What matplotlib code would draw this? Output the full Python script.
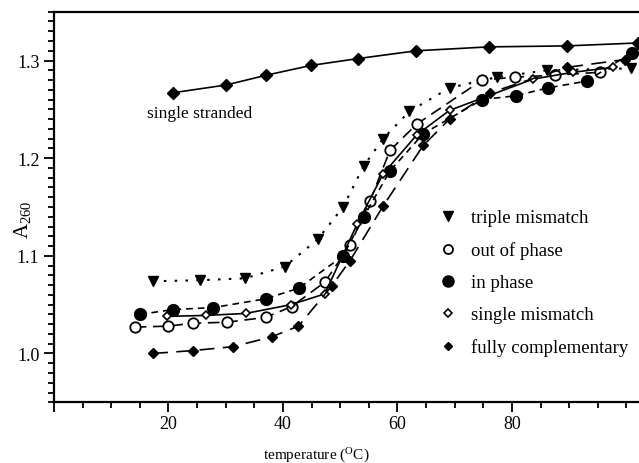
import matplotlib
matplotlib.use("Agg")
import matplotlib.pyplot as plt
from matplotlib.lines import Line2D
from matplotlib.ticker import FixedLocator, MultipleLocator

plt.rcParams['font.family'] = ['Liberation Serif', 'DejaVu Serif']
plt.rcParams['mathtext.fontset'] = 'custom'
plt.rcParams['mathtext.rm'] = 'Liberation Serif'
plt.rcParams['mathtext.it'] = 'Liberation Serif:italic'

# melting curves, absorbance at 260 nm vs temperature
ss_t = [20.8, 30.1, 37.1, 44.9, 53.1, 63.3, 76.0, 89.6, 102.0]
ss_a = [1.267, 1.275, 1.285, 1.295, 1.302, 1.310, 1.314, 1.315, 1.318]

triple_t = [17.3, 25.5, 33.4, 40.3, 46.1, 50.5, 54.1, 57.5, 62.1, 69.1, 77.4, 86.2, 100.8]
triple_a = [1.074, 1.075, 1.077, 1.089, 1.117, 1.150, 1.192, 1.220, 1.248, 1.272, 1.283, 1.290, 1.292]

outph_t = [14.1, 19.9, 24.3, 30.2, 37.0, 41.5, 47.3, 51.7, 55.2, 58.7, 63.4, 74.8, 80.6, 87.5, 95.3]
outph_a = [1.027, 1.028, 1.031, 1.032, 1.037, 1.048, 1.073, 1.111, 1.156, 1.208, 1.235, 1.280, 1.283, 1.285, 1.288]

inph_t = [15.0, 20.8, 27.8, 37.0, 42.8, 50.5, 54.1, 58.7, 64.5, 74.8, 80.7, 86.3, 93.1, 100.9]
inph_a = [1.040, 1.045, 1.047, 1.056, 1.067, 1.100, 1.140, 1.187, 1.225, 1.260, 1.264, 1.272, 1.279, 1.308]

single_t = [19.7, 26.6, 33.5, 41.4, 47.3, 53.0, 57.5, 63.4, 69.1, 83.7, 90.7, 97.7]
single_a = [1.038, 1.039, 1.041, 1.050, 1.061, 1.133, 1.184, 1.224, 1.249, 1.281, 1.288, 1.293]

full_t = [17.3, 24.3, 31.3, 38.0, 42.7, 48.5, 51.7, 57.5, 64.5, 69.1, 76.2, 89.6, 99.7]
full_a = [1.000, 1.003, 1.007, 1.017, 1.028, 1.069, 1.095, 1.151, 1.213, 1.240, 1.267, 1.293, 1.301]

legend_labels = ["triple mismatch", "out of phase", "in phase",
                 "single mismatch", "fully complementary"]

fig = plt.figure(figsize=(6.39, 4.64), dpi=100)
ax = fig.add_axes([0.0845, 0.1308, 0.9155, 0.8418])

lw = 1.2
ax.plot(ss_t, ss_a, '-', color='black', lw=lw, marker='D', ms=6, mfc='black', mec='black')
ax.plot(triple_t, triple_a, color='black', lw=1.5, linestyle=(0, (1.2, 4)),
        marker='v', ms=7.5, mfc='black', mec='black')
ax.plot(outph_t, outph_a, color='black', lw=lw, linestyle=(0, (7, 4)),
        marker='o', ms=7.5, mfc='white', mec='black', mew=1.3)
ax.plot(inph_t, inph_a, color='black', lw=lw, linestyle=(0, (4, 3)),
        marker='o', ms=8.5, mfc='black', mec='black')
ax.plot(single_t, single_a, '-', color='black', lw=lw,
        marker='D', ms=4.5, mfc='white', mec='black', mew=1.2)
ax.plot(full_t, full_a, color='black', lw=lw, linestyle=(0, (9, 5)),
        marker='D', ms=5.5, mfc='black', mec='black')

ax.text(16.2, 1.246, "single stranded", fontsize=12.5, ha='left', va='center')

handles = [
    Line2D([], [], ls='none', marker='v', ms=6.5, mfc='black', mec='black'),
    Line2D([], [], ls='none', marker='o', ms=6.5, mfc='white', mec='black', mew=1.3),
    Line2D([], [], ls='none', marker='o', ms=8, mfc='black', mec='black'),
    Line2D([], [], ls='none', marker='D', ms=4, mfc='white', mec='black', mew=1.2),
    Line2D([], [], ls='none', marker='D', ms=4.5, mfc='black', mec='black'),
]
ax.legend(handles, legend_labels, loc='center left', bbox_to_anchor=(0.657, 0.306),
          frameon=False, fontsize=13.5, handlelength=1.0, handletextpad=0.75,
          labelspacing=0.8, borderpad=0, borderaxespad=0)

ax.set_xlim(0, 102.2)
ax.set_ylim(0.95, 1.35)
ax.xaxis.set_major_locator(FixedLocator([0, 20, 40, 60, 80]))
ax.xaxis.set_minor_locator(MultipleLocator(5))
ax.set_xticklabels(["", "20", "40", "60", "80"])
ax.yaxis.set_major_locator(FixedLocator([1.0, 1.1, 1.2, 1.3]))
ax.yaxis.set_minor_locator(MultipleLocator(0.01))
ax.set_yticklabels(["1.0", "1.1", "1.2", "1.3"])

ax.tick_params(axis='both', which='major', direction='out', length=7, width=1.3, labelsize=13)
ax.tick_params(axis='both', which='minor', direction='out', length=4.5, width=1.3)
ax.tick_params(axis='x', pad=2)

for side in ['left', 'bottom', 'top']:
    ax.spines[side].set_linewidth(1.6)
ax.spines['right'].set_visible(False)

ax.set_xlabel("temperature ($^{\\rm O}$C)", fontsize=11)
ax.xaxis.set_label_coords(0.449, -0.112)
ax.set_ylabel("A$_{260}$", fontsize=15)
ax.yaxis.set_label_coords(-0.036, 0.469)

fig.savefig("out.png", dpi=100)
